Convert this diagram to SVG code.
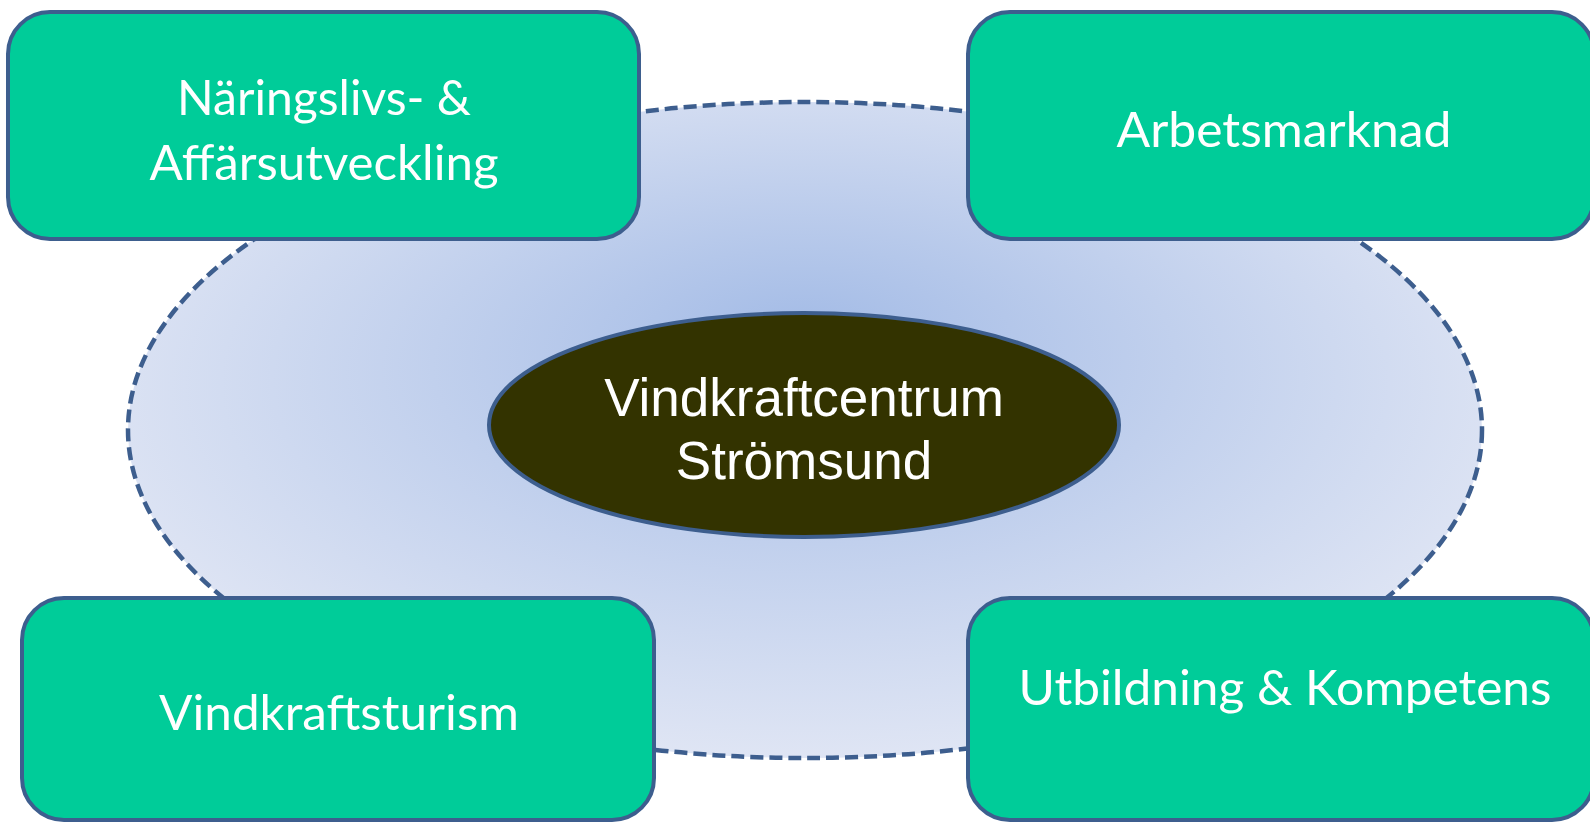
<svg xmlns="http://www.w3.org/2000/svg" width="1590" height="823" viewBox="0 0 1590 823">
<style>
.box{fill:#00cc99;stroke:#3d5e8e;stroke-width:4}
.lbl{font-family:Lato,"Open Sans","Liberation Sans",sans-serif;font-size:48px;fill:#ffffff;text-anchor:middle}
.ctr{font-family:"Liberation Sans",Arial,sans-serif;font-size:53px;fill:#ffffff;text-anchor:middle}
</style>
<defs>
<radialGradient id="bg" cx="50%" cy="45%" r="55%" fx="50%" fy="35%">
<stop offset="0" stop-color="#a3bbe6"/>
<stop offset="1" stop-color="#dfe5f4"/>
</radialGradient>
</defs>
<rect width="1590" height="823" fill="#ffffff"/>
<g id="outer">
<ellipse cx="805" cy="430" rx="677" ry="328" fill="url(#bg)" stroke="#3d5e8e" stroke-width="4.5" stroke-dasharray="13 6"/>
</g>
<g id="connectors"></g>
<g id="node-naringsliv">
<rect class="box" x="8" y="12" width="631" height="227" rx="42"/>
<text class="lbl" x="324" y="115" textLength="294" lengthAdjust="spacingAndGlyphs">Näringslivs- &amp;</text>
<text class="lbl" x="324" y="180" textLength="349" lengthAdjust="spacingAndGlyphs">Affärsutveckling</text>
</g>
<g id="node-arbetsmarknad">
<rect class="box" x="968" y="12" width="626" height="227" rx="42"/>
<text class="lbl" x="1284" y="147" textLength="335" lengthAdjust="spacingAndGlyphs">Arbetsmarknad</text>
</g>
<g id="node-vindkraftsturism">
<rect class="box" x="22" y="598" width="632" height="222" rx="42"/>
<text class="lbl" x="339" y="730" textLength="360" lengthAdjust="spacingAndGlyphs">Vindkraftsturism</text>
</g>
<g id="node-utbildning">
<rect class="box" x="968" y="598" width="626" height="222" rx="42"/>
<text class="lbl" x="1285" y="705" textLength="533" lengthAdjust="spacingAndGlyphs">Utbildning &amp; Kompetens</text>
</g>
<g id="node-center">
<ellipse cx="804" cy="425" rx="315" ry="112" fill="#333300" stroke="#3d5e8e" stroke-width="4"/>
<text class="ctr" x="804" y="416">Vindkraftcentrum</text>
<text class="ctr" x="804" y="479">Strömsund</text>
</g>
</svg>
